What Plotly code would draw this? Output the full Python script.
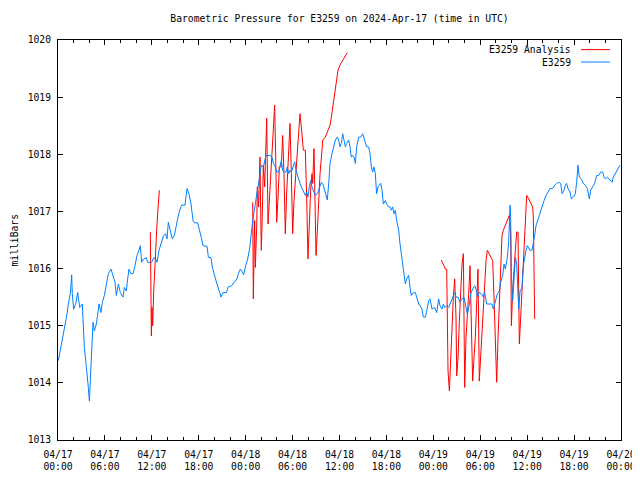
import pandas as pd
import plotly.graph_objects as go

BASE = pd.Timestamp("2024-04-17 00:00")

# ---- E3259 observations (hours after 2024-04-17 00:00 UTC, millibars) ----
blue_hours = [
    0.05, 0.38, 0.64, 0.90, 1.15, 1.32, 1.58, 1.75, 1.83, 2.00, 2.26, 2.52, 2.77, 3.11, 3.20,
    3.37, 3.54, 3.71, 3.88, 4.01, 4.13, 4.22, 4.31, 4.48, 4.65, 4.90, 5.07, 5.24, 5.50, 5.67,
    5.93, 6.18, 6.44, 6.78, 7.03, 7.29, 7.46, 7.72, 7.97, 8.31, 8.48, 8.74, 8.91, 9.08, 9.34,
    9.59, 9.85, 10.10, 10.36, 10.53, 10.70, 10.96, 11.30, 11.47, 11.98, 12.24, 12.49, 12.66,
    12.92, 13.17, 13.51, 13.77, 13.94, 14.11, 14.37, 14.62, 14.88, 15.05, 15.30, 15.56, 15.82,
    16.24, 16.50, 16.75, 17.01, 17.27, 17.44, 17.86, 18.12, 18.37, 18.54, 19.06, 19.23, 19.57,
    19.74, 19.99, 20.33, 20.68, 20.85, 21.10, 21.53, 21.78, 22.21, 22.55, 22.89, 23.06, 23.32,
    23.57, 23.74, 24.00, 24.26, 24.51,
    24.64, 24.81, 24.98, 25.15, 25.32, 25.49, 25.66, 25.83, 26.00, 26.26, 26.43, 26.60, 26.86,
    27.11, 27.37, 27.54, 27.79, 27.97, 28.22, 28.39, 28.56, 28.73, 28.90, 29.16, 29.33, 29.50,
    29.67, 29.84, 30.10, 30.27, 30.44, 30.61, 30.78, 30.95, 31.12, 31.38, 31.63, 31.80, 31.97,
    32.14, 32.31, 32.48, 32.65, 32.91, 33.17, 33.42, 33.68, 33.93, 34.19, 34.36, 34.44, 34.62,
    34.79, 35.04, 35.21, 35.47, 35.72, 35.89, 36.06, 36.23, 36.41, 36.58, 36.75, 36.92, 37.17,
    37.34, 37.51, 37.68, 37.86, 38.03, 38.20, 38.45, 38.71, 38.96, 39.13, 39.30, 39.47, 39.73,
    39.90, 40.07, 40.24, 40.41, 40.58, 40.75, 40.92, 41.10, 41.27, 41.44, 41.61, 41.86, 42.03,
    42.29, 42.46, 42.63, 42.80, 42.97, 43.14, 43.31, 43.57, 43.74, 43.91, 44.08, 44.25, 44.42,
    44.59, 44.85, 45.02, 45.19, 45.44, 45.70, 45.87, 46.13, 46.30, 46.55, 46.72, 46.98, 47.15,
    47.41, 47.58, 47.83, 48.17, 48.43, 48.68,
    48.85, 49.11, 49.28, 49.45, 49.71, 49.96, 50.22, 50.47, 50.73, 50.90, 51.16, 51.41, 51.67,
    51.92, 52.18, 52.35, 52.61, 52.78, 53.03, 53.29, 53.46, 53.63, 53.88, 54.14, 54.40, 54.57,
    54.82, 55.25, 55.50, 55.68, 55.93, 56.19, 56.44, 56.61, 56.87, 57.04, 57.21, 57.47, 57.64,
    57.81, 57.89, 57.98, 58.15, 58.32, 58.49, 58.66, 58.83, 58.92, 59.09, 59.34, 59.51, 59.68,
    59.85, 60.02, 60.19, 60.36, 60.62, 60.79, 60.96, 61.13, 61.39, 61.64, 61.90, 62.16, 62.41,
    62.67, 62.92, 63.26, 63.52, 63.77, 64.03, 64.29, 64.46, 64.71, 64.88, 65.05, 65.22, 65.48,
    65.65, 65.91, 66.16, 66.33, 66.50, 66.67, 66.93, 67.18, 67.44, 67.70, 67.95, 68.12, 68.38,
    68.63, 68.89, 69.14, 69.40, 69.65, 69.83, 70.00, 70.25, 70.42, 70.59, 70.85, 71.02, 71.28,
    71.53, 71.70, 71.87,
]
blue_mb = [
    1014.39, 1014.62, 1014.80, 1014.97, 1015.20, 1015.38, 1015.56, 1015.89, 1015.56, 1015.29,
    1015.38, 1015.58, 1015.32, 1015.38, 1015.03, 1014.62, 1014.39, 1014.18, 1013.92, 1013.68,
    1013.98, 1014.33, 1014.62, 1015.06, 1014.91, 1015.03, 1015.18, 1015.38, 1015.23, 1015.41,
    1015.53, 1015.70, 1015.91, 1015.99, 1015.88, 1015.76, 1015.53, 1015.73, 1015.58, 1015.50,
    1015.67, 1015.61, 1015.82, 1015.99, 1015.91, 1015.91, 1016.05, 1016.23, 1016.32, 1016.40,
    1016.11, 1016.17, 1016.19, 1016.11, 1016.11, 1016.19, 1016.17, 1016.11, 1016.32, 1016.43,
    1016.58, 1016.61, 1016.52, 1016.81, 1016.67, 1016.52, 1016.58, 1016.72, 1016.87, 1017.02,
    1017.11, 1017.11, 1017.40, 1017.31, 1017.13, 1016.84, 1016.80, 1016.80, 1016.67, 1016.52,
    1016.40, 1016.39, 1016.20, 1016.19, 1016.02, 1015.88, 1015.73, 1015.58, 1015.50, 1015.58,
    1015.58, 1015.68, 1015.70, 1015.76, 1015.82, 1015.91, 1015.99, 1015.94, 1015.89, 1016.05,
    1016.17, 1016.35,
    1016.55, 1016.73, 1016.90, 1017.08, 1017.19, 1017.37, 1017.49, 1017.66, 1017.81, 1017.78,
    1017.89, 1017.98, 1017.98, 1017.98, 1017.95, 1017.84, 1017.78, 1017.69, 1017.69, 1017.78,
    1017.89, 1017.72, 1017.69, 1017.69, 1017.78, 1017.66, 1017.72, 1017.69, 1017.78, 1017.87,
    1017.72, 1017.63, 1017.54, 1017.49, 1017.43, 1017.34, 1017.28, 1017.34, 1017.25, 1017.43,
    1017.54, 1017.43, 1017.37, 1017.28, 1017.31, 1017.43, 1017.51, 1017.46, 1017.34, 1017.25,
    1017.20, 1017.49, 1017.84, 1018.01, 1018.13, 1018.25, 1018.30, 1018.25, 1018.13, 1018.19,
    1018.36, 1018.25, 1018.13, 1018.19, 1018.25, 1018.13, 1017.95, 1017.98, 1017.95, 1017.84,
    1018.13, 1018.30, 1018.30, 1018.36, 1018.27, 1018.19, 1018.13, 1018.13, 1018.01, 1017.78,
    1017.69, 1017.78, 1017.66, 1017.31, 1017.43, 1017.46, 1017.49, 1017.37, 1017.13, 1017.19,
    1017.13, 1017.08, 1017.08, 1017.02, 1017.08, 1016.96, 1017.02, 1016.84, 1016.67, 1016.43,
    1016.26, 1016.02, 1015.91, 1015.73, 1015.82, 1015.88, 1015.67, 1015.53, 1015.58, 1015.58,
    1015.50, 1015.38, 1015.35, 1015.29, 1015.15, 1015.15, 1015.26, 1015.44, 1015.47, 1015.29,
    1015.32, 1015.23, 1015.47,
    1015.35, 1015.29, 1015.38, 1015.32, 1015.35, 1015.32, 1015.41, 1015.50, 1015.58, 1015.50,
    1015.50, 1015.41, 1015.47, 1015.50, 1015.32, 1015.20, 1015.38, 1015.56, 1015.64, 1015.70,
    1015.64, 1015.50, 1015.58, 1015.56, 1015.50, 1015.58, 1015.38, 1015.38, 1015.38, 1015.29,
    1015.44, 1015.56, 1015.61, 1015.76, 1015.88, 1016.08, 1015.99, 1016.20, 1016.49, 1017.11,
    1016.90, 1015.91, 1015.44, 1015.96, 1016.20, 1016.08, 1015.67, 1015.29, 1015.61, 1015.67,
    1016.05, 1016.20, 1016.32, 1016.40, 1016.37, 1016.32, 1016.32, 1016.43, 1016.58, 1016.75,
    1016.87, 1016.96, 1017.08, 1017.19, 1017.28, 1017.34, 1017.40, 1017.40, 1017.46, 1017.49,
    1017.51, 1017.49, 1017.31, 1017.37, 1017.46, 1017.49, 1017.40, 1017.34, 1017.22, 1017.25,
    1017.31, 1017.51, 1017.81, 1017.60, 1017.57, 1017.49, 1017.46, 1017.40, 1017.22, 1017.37,
    1017.43, 1017.49, 1017.63, 1017.63, 1017.69, 1017.69, 1017.60, 1017.57, 1017.60, 1017.57,
    1017.54, 1017.51, 1017.60, 1017.66, 1017.72, 1017.78, 1017.81,
]

# ---- E3259 Analysis (three separate runs) ----
red1_hours = [11.81, 11.94, 12.02, 12.11, 12.24, 12.41, 12.58, 12.70, 12.83, 12.96]
red1_mb = [1016.64, 1014.82, 1015.32, 1015.00, 1015.61, 1016.23, 1016.55, 1016.87, 1017.19, 1017.37]

red2_hours = [
    24.90, 24.98, 25.15, 25.24, 25.41, 25.49, 25.66, 25.83, 25.92, 26.00, 26.09, 26.26, 26.43,
    26.60, 26.69, 26.86, 27.03, 27.20, 27.37, 27.54, 27.71, 27.88, 27.97, 28.14, 28.31, 28.56,
    28.73, 28.90, 29.07, 29.24, 29.50, 29.67, 29.84, 30.01, 30.18, 30.35, 30.52, 30.78, 30.95,
    31.12, 31.38, 31.63, 31.72, 31.80, 31.97, 32.14, 32.31, 32.48, 32.57, 32.74, 32.82, 33.00,
    33.17, 33.34, 33.51, 33.76, 33.85, 34.19, 34.53, 34.79, 34.96, 35.13, 35.38, 35.64, 35.81,
    36.06, 36.32, 36.58, 37.00,
]
red2_mb = [
    1017.16, 1015.47, 1016.84, 1016.02, 1016.73, 1017.43, 1017.08, 1017.95, 1017.02, 1016.32,
    1016.73, 1017.81, 1017.43, 1018.25, 1018.63, 1016.78, 1017.19, 1017.66, 1018.13, 1018.42,
    1018.86, 1017.66, 1016.81, 1017.25, 1017.78, 1017.78, 1018.33, 1017.66, 1016.61, 1017.31,
    1018.07, 1018.54, 1017.66, 1016.61, 1017.19, 1017.54, 1017.84, 1018.25, 1018.71, 1018.48,
    1018.07, 1018.07, 1017.78, 1017.25, 1016.17, 1016.96, 1017.37, 1017.66, 1017.49, 1018.10,
    1017.25, 1016.23, 1016.67, 1017.25, 1017.66, 1018.07, 1018.25, 1018.30, 1018.42, 1018.51,
    1018.65, 1018.83, 1019.01, 1019.30, 1019.47, 1019.56, 1019.62, 1019.68, 1019.78,
]

red3_hours = [
    49.02, 49.28, 49.54, 49.71, 49.88, 50.05, 50.22, 50.39, 50.56, 50.73, 50.90, 50.99, 51.16,
    51.33, 51.50, 51.67, 51.84, 51.92, 52.01, 52.18, 52.35, 52.52, 52.69, 52.86, 53.03, 53.20,
    53.37, 53.54, 53.71, 53.88, 54.05, 54.23, 54.40, 54.57, 54.74, 54.91, 55.16, 55.42, 55.59,
    55.76, 55.93, 56.10, 56.27, 56.44, 56.61, 56.78, 56.95, 57.21, 57.47, 57.72, 57.89, 57.98,
    58.15, 58.32, 58.49, 58.66, 58.83, 58.92, 59.00, 59.17, 59.34, 59.51, 59.68, 59.85, 59.94,
    60.19, 60.45, 60.70, 60.79, 60.88, 60.96,
]
red3_mb = [
    1016.15, 1016.08, 1015.99, 1015.99, 1014.21, 1013.86, 1014.39, 1015.09, 1015.50, 1015.82,
    1015.15, 1014.12, 1014.44, 1015.09, 1015.73, 1016.08, 1016.26, 1015.20, 1013.92, 1014.80,
    1015.15, 1015.56, 1016.05, 1014.91, 1014.03, 1014.44, 1014.80, 1015.38, 1015.99, 1014.03,
    1014.44, 1015.03, 1015.38, 1015.85, 1016.14, 1016.32, 1016.26, 1016.20, 1016.14, 1015.50,
    1014.56, 1014.01, 1014.77, 1015.50, 1016.02, 1016.58, 1016.67, 1016.75, 1016.84, 1016.93,
    1016.61, 1015.00, 1015.61, 1016.08, 1016.32, 1016.64, 1016.64, 1015.56, 1014.68, 1015.15,
    1015.61, 1016.05, 1016.72, 1017.10, 1017.28, 1017.22, 1017.16, 1017.08, 1016.90, 1016.11,
    1015.12,
]

x_tick_hours = list(range(0, 73, 6))
y_ticks = [1013, 1014, 1015, 1016, 1017, 1018, 1019, 1020]

title_text = "Barometric Pressure for E3259 on 2024-Apr-17 (time in UTC)"
y_title = "milliBars"
series_names = ["E3259 Analysis", "E3259"]
RED = "#ff0000"
BLUE = "#0080ff"
FONT = "DejaVu Sans Mono"
FS = 9.7

# the page body adds an 8px offset, so the figure is sized to the remaining area
FIG_W, FIG_H = 632, 472


def to_time(hours):
    return [BASE + pd.Timedelta(hours=h) for h in hours]


red_x = to_time(red1_hours) + [None] + to_time(red2_hours) + [None] + to_time(red3_hours)
red_y = red1_mb + [None] + red2_mb + [None] + red3_mb

fig = go.Figure()
fig.add_trace(go.Scatter(x=red_x, y=red_y, mode="lines", name=series_names[0],
                         line=dict(color=RED, width=1), connectgaps=False, showlegend=False))
fig.add_trace(go.Scatter(x=to_time(blue_hours), y=blue_mb, mode="lines", name=series_names[1],
                         line=dict(color=BLUE, width=1), showlegend=False))

tickvals = to_time(x_tick_hours)
ticktext = [t.strftime("%m/%d<br>%H:%M") for t in tickvals]

fig.update_xaxes(
    range=[BASE, BASE + pd.Timedelta(hours=72)],
    tickmode="array", tickvals=tickvals, ticktext=ticktext,
    ticks="inside", ticklen=5, tickcolor="black", tickwidth=1,
    minor=dict(dtick=2 * 3600 * 1000, ticks="inside", ticklen=3, tickcolor="black", showgrid=False),
    showline=True, linecolor="black", linewidth=1, mirror="ticks",
    showgrid=False, zeroline=False, automargin=False, ticklabelstandoff=5,
    tickfont=dict(family=FONT, size=FS, color="black"),
)
fig.update_yaxes(
    range=[1013, 1020], tickvals=y_ticks,
    ticks="inside", ticklen=5, tickcolor="black", tickwidth=1,
    showline=True, linecolor="black", linewidth=1, mirror="ticks",
    showgrid=False, zeroline=False, automargin=False, ticklabelstandoff=4,
    tickfont=dict(family=FONT, size=FS, color="black"),
)

# gnuplot-style key: text on the left, line sample on the right
key_rows = [(0.976, series_names[0], RED), (0.945, series_names[1], BLUE)]
for yk, name, col in key_rows:
    fig.add_annotation(x=0.915, y=yk, xref="paper", yref="paper", text=name,
                       showarrow=False, xanchor="right", yanchor="middle",
                       font=dict(family=FONT, size=FS, color="black"))
    fig.add_shape(type="line", xref="paper", yref="paper", x0=0.929, x1=0.9805,
                  y0=yk, y1=yk, line=dict(color=col, width=1))

fig.add_annotation(x=-0.0790, y=0.5, xref="paper", yref="paper", text=y_title,
                   textangle=-90, showarrow=False, xanchor="center", yanchor="middle",
                   font=dict(family=FONT, size=FS, color="black"))

fig.update_layout(
    width=FIG_W, height=FIG_H,
    margin=dict(l=50, r=19, t=32, b=40),
    paper_bgcolor="white", plot_bgcolor="white",
    title=dict(text=title_text, x=0.5, xref="paper", xanchor="center",
               y=1 - 11 / FIG_H, yref="container", yanchor="middle",
               font=dict(family=FONT, size=FS, color="black")),
    showlegend=False,
)

fig.write_html("out.html")
